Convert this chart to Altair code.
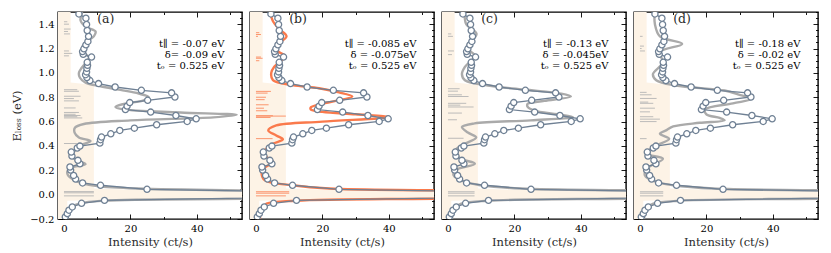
import altair as alt
import pandas as pd

FONT = "DejaVu Serif"
X_DOMAIN = [-1.8, 53.6]
Y_DOMAIN = [-0.2, 1.5]

X_MAJOR = [0, 20, 40]
X_MINOR = [10, 30, 50]
Y_MAJOR = [-0.2, 0.0, 0.2, 0.4, 0.6, 0.8, 1.0, 1.2, 1.4]
Y_MINOR = [-0.15, -0.1, -0.05, 0.05, 0.1, 0.15, 0.25, 0.3, 0.35, 0.45, 0.5, 0.55,
           0.65, 0.7, 0.75, 0.85, 0.9, 0.95, 1.05, 1.1, 1.15, 1.25, 1.3, 1.35, 1.45, 1.5]

# measured RIXS spectrum (same in every panel)
EXP_E = [-0.183, -0.156, -0.128, -0.101, -0.071, -0.047, 0.0, 0.044, 0.077, 0.096, 0.128, 0.158,
         0.202, 0.227, 0.253, 0.282, 0.317, 0.350, 0.383, 0.399, 0.423, 0.451, 0.473, 0.500,
         0.527, 0.546, 0.574, 0.601, 0.623, 0.650, 0.678, 0.699, 0.727, 0.756, 0.775, 0.802,
         0.836, 0.857, 0.884, 0.912, 0.937, 0.962, 0.985, 1.008, 1.038, 1.062, 1.087, 1.130,
         1.152, 1.175, 1.198, 1.230, 1.258, 1.300, 1.348, 1.398, 1.449, 1.484]
EXP_I = [0.4, 1.0, 1.5, 2.5, 5.3, 12.2, 120, 25.0, 11.0, 5.6, 3.5, 2.9,
         2.0, 1.8, 4.8, 4.2, 2.4, 2.2, 4.0, 4.8, 10.8, 11.0, 11.3, 14.1,
         16.8, 21.2, 27.9, 37.1, 39.8, 33.7, 26.1, 18.5, 19.0, 19.8, 25.2, 33.4,
         32.4, 23.3, 15.4, 10.4, 7.8, 6.9, 6.5, 6.8, 6.9, 7.1, 7.0, 8.3,
         5.8, 5.6, 6.0, 6.6, 7.2, 7.4, 7.0, 6.8, 6.6, 4.5]

# light background envelope
PEACH_E = [-0.2, -0.05, -0.04, -0.03, 0.03, 0.04, 0.05, 0.06, 0.9, 0.92, 1.5]
PEACH_I = [1.0, 1.0, 20, 54, 54, 20, 9.0, 9.0, 9.0, 2.0, 2.0]

# calculated spectra
TA_E = [-0.2, -0.15, -0.1, -0.07, -0.05, -0.035, 0.0, 0.035, 0.05, 0.07, 0.093, 0.12, 0.16, 0.19,
        0.22, 0.25, 0.28, 0.31, 0.35, 0.40, 0.44, 0.47, 0.51, 0.55, 0.58, 0.61, 0.635, 0.655,
        0.675, 0.70, 0.72, 0.745, 0.775, 0.80, 0.83, 0.86, 0.89, 0.92, 0.96, 1.0, 1.04, 1.08,
        1.13, 1.17, 1.21, 1.25, 1.3, 1.34, 1.38, 1.43, 1.5]
TA_I = [1.0, 1.3, 2.5, 5.0, 12, 54, 300, 54, 22, 10, 5.5, 3.0, 1.2, 1.0,
        2.0, 6.5, 4.0, 2.5, 3.0, 4.5, 8.0, 4.5, 3.2, 3.3, 6.0, 20, 45, 52,
        35, 18, 15.5, 18, 24, 25.5, 22.5, 17, 11, 6.5, 4.8, 4.5, 5.3, 6.5,
        7.5, 5.8, 5.5, 6.5, 9.0, 9.5, 6.5, 5.0, 5.5]

TB_E = [-0.2, -0.115, -0.074, -0.05, -0.033, 0.0, 0.036, 0.05, 0.077, 0.117, 0.172, 0.213, 0.268,
        0.309, 0.35, 0.377, 0.418, 0.454, 0.486, 0.527, 0.568, 0.60, 0.637, 0.66, 0.68, 0.70,
        0.716, 0.74, 0.77, 0.806, 0.84, 0.874, 0.90, 0.94, 1.0, 1.05, 1.136, 1.18, 1.22, 1.30,
        1.36, 1.42, 1.5]
TB_I = [1.2, 1.7, 3.2, 12, 54, 300, 54, 22, 11, 2.7, 1.7, 2.2, 5.1,
        3.2, 2.2, 3.2, 5.1, 8.1, 6.1, 3.7, 6.1, 20, 40.3, 30, 20, 16.5,
        16.5, 19, 24, 29, 25, 19, 11, 5.1, 4.6, 5.5, 8.8, 6.5, 6.1, 9.2,
        7.0, 5.2, 4.2]

TC_E = [-0.2, -0.11, -0.074, -0.05, -0.033, 0.0, 0.036, 0.05, 0.077, 0.104, 0.158, 0.2, 0.254,
        0.30, 0.363, 0.418, 0.47, 0.51, 0.555, 0.585, 0.61, 0.637, 0.66, 0.69, 0.72, 0.746,
        0.77, 0.806, 0.83, 0.863, 0.896, 0.94, 0.99, 1.05, 1.14, 1.21, 1.32, 1.40, 1.5]
TC_I = [1.2, 2.0, 4.0, 12, 54, 300, 54, 22, 10, 5.1, 1.7, 2.2, 8.1,
        3.5, 2.2, 5.1, 8.5, 6.0, 4.2, 8.0, 25, 37.6, 33, 26, 24, 24,
        29, 37, 34, 23, 12, 5.1, 4.2, 5.1, 8.1, 5.6, 8.6, 5.5, 5.0]

TD_E = [-0.2, -0.11, -0.074, -0.05, -0.033, 0.0, 0.036, 0.05, 0.077, 0.104, 0.158, 0.213, 0.295,
        0.336, 0.39, 0.459, 0.50, 0.53, 0.56, 0.59, 0.61, 0.63, 0.66, 0.70, 0.75, 0.787, 0.82,
        0.855, 0.896, 0.94, 0.99, 1.087, 1.17, 1.238, 1.30, 1.40, 1.5]
TD_I = [1.2, 2.0, 4.0, 12, 54, 300, 54, 22, 10, 4.9, 1.5, 2.0, 6.9,
        2.0, 3.9, 8.8, 6.0, 8.0, 10, 18, 25.5, 24, 20, 19.6, 28, 33.8, 30,
        25.5, 10.8, 4.9, 3.9, 6.9, 5.9, 12.7, 6.0, 4.5, 4.4]

# calculated transitions (sticks)
SA_E = [-0.01, 0.015, 0.025, 0.42, 0.63, 0.64, 0.65, 0.66, 0.675, 0.712, 0.77, 0.789, 0.808,
        0.849, 0.862, 1.14, 1.16, 1.18, 1.32, 1.34, 1.36, 1.40, 1.42]
SA_I = [9, 9, 9, 4.0, 5.5, 4.0, 5.0, 3.5, 4.5, 3.5, 4.5, 3.0, 5.0, 4.5, 4.0, 1.5, 2.5, 1.5,
        1.8, 1.2, 2.0, 1.5, 1.0]
SB_E = [-0.01, 0.012, 0.024, 0.46, 0.634, 0.645, 0.648, 0.689, 0.71, 0.738, 0.78, 0.80, 0.834,
        0.848, 1.10, 1.12, 1.13, 1.30, 1.315, 1.33]
SB_I = [9, 10, 10, 5.0, 4.4, 9.0, 5.1, 3.4, 2.4, 3.8, 2.6, 3.0, 3.5, 4.5, 1.0, 2.0, 1.5,
        0.6, 1.5, 1.0]
SC_E = [-0.01, 0.012, 0.024, 0.463, 0.615, 0.67, 0.72, 0.735, 0.75, 0.806, 0.82, 0.85, 0.87,
        1.15, 1.18, 1.30, 1.32]
SC_I = [8, 8, 8, 4.7, 2.7, 4.2, 7.7, 3.7, 5.5, 6.2, 4.2, 3.0, 3.5, 1.2, 1.8, 1.5, 1.0]
SD_E = [-0.01, 0.012, 0.024, 0.46, 0.60, 0.62, 0.64, 0.68, 0.71, 0.75, 0.76, 0.79, 0.82, 0.84,
        1.18, 1.20, 1.22, 1.30]
SD_I = [7, 7, 7, 2.0, 5.0, 6.0, 4.0, 3.0, 4.5, 4.0, 2.5, 5.0, 3.5, 2.0, 1.5, 0.5, 1.2, 0.8]

PANELS = [
    ("(a)", TA_E, TA_I, SA_E, SA_I, "#aaaaaa", "#b4b4b4",
     ["t∥ = -0.07 eV", "δ= -0.09 eV", "tₒ = 0.525 eV"]),
    ("(b)", TB_E, TB_I, SB_E, SB_I, "#fa7a4c", "#fa8a60",
     ["t∥ = -0.085 eV", "δ = -0.075eV", "tₒ = 0.525 eV"]),
    ("(c)", TC_E, TC_I, SC_E, SC_I, "#aaaaaa", "#b4b4b4",
     ["t∥ = -0.13 eV", "δ = -0.045eV", "tₒ = 0.525 eV"]),
    ("(d)", TD_E, TD_I, SD_E, SD_I, "#aaaaaa", "#b4b4b4",
     ["t∥ = -0.18 eV", "δ = -0.02 eV", "tₒ = 0.525 eV"]),
]

XS = alt.Scale(domain=X_DOMAIN, nice=False, zero=False)
YS = alt.Scale(domain=Y_DOMAIN, nice=False, zero=False)


def axis(orient, values, size, labels=False, title=None, fmt=None, tpad=3, lpad=None):
    kw = dict(orient=orient, values=values, tickSize={"expr": str(-size)},
              tickColor="black", tickWidth=0.9, domain=False, grid=False,
              labels=labels, ticks=True, title=title, labelFlush=False)
    if labels:
        kw.update(labelFont=FONT, labelFontSize=10, labelColor="black",
                  labelPadding=lpad if lpad is not None else size + 4)
    if fmt:
        kw["format"] = fmt
    if title:
        kw.update(titleFont=FONT, titleFontSize=11.5, titleFontWeight=400,
                  titleColor="#2a2a2a", titlePadding=tpad)
    return alt.Axis(**kw)


def panel(i, label, tE, tI, sE, sI, tcol, scol, params):
    first = i == 0
    exp_df = pd.DataFrame({"E": EXP_E, "I": EXP_I})
    th_df = pd.DataFrame({"E": tE, "I": tI})
    st_df = pd.DataFrame({"E": sE, "I": sI, "zero": [0.0] * len(sE)})
    pe_df = pd.DataFrame({"E": PEACH_E, "I": PEACH_I,
                          "base": [X_DOMAIN[0]] * len(PEACH_E)})
    one = pd.DataFrame({"k": [0]})

    if first:
        yax_major = axis("left", Y_MAJOR, 5, labels=True, title="Eₗₒₛₛ (eV)",
                         fmt=".1f", tpad=7, lpad=9)
    else:
        yax_major = axis("left", Y_MAJOR, 5)

    peach = alt.Chart(pe_df).mark_area(color="#fdf3e6", opacity=1, clip=True,
                                       orient="horizontal", line=False).encode(
        y=alt.Y("E:Q", scale=YS, axis=yax_major),
        x=alt.X("I:Q", scale=XS, stack=None,
                axis=axis("bottom", X_MAJOR, 5, labels=True, title="Intensity (ct/s)")),
        x2="base:Q",
    )
    sticks = alt.Chart(st_df).mark_rule(color=scol, strokeWidth=0.9, clip=True).encode(
        y=alt.Y("E:Q", scale=YS, axis=axis("right", Y_MAJOR, 5)),
        x=alt.X("zero:Q", scale=XS, axis=axis("top", X_MAJOR, 5)),
        x2="I:Q",
    )
    theory = alt.Chart(th_df).mark_line(color=tcol, strokeWidth=2.4, clip=True,
                                        interpolate="catmull-rom").encode(
        y=alt.Y("E:Q", scale=YS, axis=axis("left", Y_MINOR, 2.5)),
        x=alt.X("I:Q", scale=XS, axis=axis("bottom", X_MINOR, 2.5)),
        order=alt.Order("E:Q"),
    )
    exp_line = alt.Chart(exp_df).mark_line(color="#6f8094", strokeWidth=1.3, clip=True).encode(
        y=alt.Y("E:Q", scale=YS, axis=axis("right", Y_MINOR, 2.5)),
        x=alt.X("I:Q", scale=XS, axis=axis("top", X_MINOR, 2.5)),
        order=alt.Order("E:Q"),
    )
    exp_pts = alt.Chart(exp_df).mark_point(shape="circle", filled=True, fill="white",
                                           stroke="#6f8094", strokeWidth=1.3, size=38,
                                           opacity=1, clip=True).encode(
        y=alt.Y("E:Q", scale=YS, axis=None),
        x=alt.X("I:Q", scale=XS, axis=None),
    )
    lab = alt.Chart(one).mark_text(text=label, font=FONT, fontSize=12.5, fontWeight=400,
                                   align="left", baseline="middle", color="#2a2a2a").encode(
        x=alt.XDatum(10.0, scale=XS, axis=None),
        y=alt.YDatum(1.44, scale=YS, axis=None),
    )
    par = alt.Chart(one).mark_text(text=params, font=FONT, fontSize=10, align="right",
                                   baseline="middle", lineHeight=11.2, color="black").encode(
        x=alt.XDatum(48.3, scale=XS, axis=None),
        y=alt.YDatum(1.237, scale=YS, axis=None),
    )
    return alt.layer(peach, sticks, theory, exp_line, exp_pts, lab, par).resolve_axis(
        x="independent", y="independent").properties(width=184, height=207)


charts = [panel(i, *p) for i, p in enumerate(PANELS)]
chart = alt.hconcat(*charts, spacing=4).properties(
    padding={"left": 3, "top": 2, "right": 2, "bottom": 2}
).configure_view(stroke="black", strokeWidth=1.4)

chart.save("out.html", embed_options={"renderer": "svg", "actions": False})
